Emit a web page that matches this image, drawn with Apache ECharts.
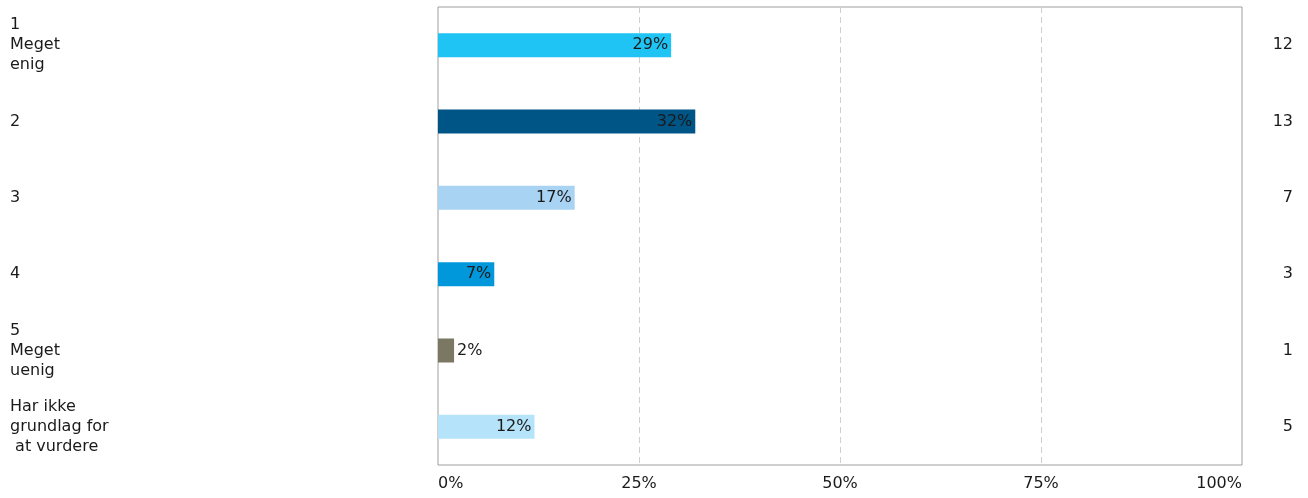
<!DOCTYPE html>
<html>
<head>
<meta charset="utf-8">
<script src="https://cdn.jsdelivr.net/npm/echarts@6/dist/echarts.min.js"></script>
<style>
  html, body { margin: 0; padding: 0; background: #fff; }
  #chart { width: 1308px; height: 498px; }
</style>
</head>
<body>
<div id="chart"></div>
<script>
// svarkategorier
const categories = ['1\nMeget\nenig', '2', '3', '4', '5\nMeget\nuenig', 'Har ikke\ngrundlag for\n at vurdere'];
// andel i procent
const percents = [29, 32, 17, 7, 2, 12];
// antal svar
const counts = [12, 13, 7, 3, 1, 5];
const barColors = ['#20c4f4', '#005587', '#a9d3f3', '#0098db', '#7a7763', '#b5e4fa'];
const ticks = [0, 25, 50, 75, 100];

const font = '"DejaVu Sans", Verdana, sans-serif';
const chart = echarts.init(document.getElementById('chart'));

const option = {
    animation: false,
    textStyle: { fontFamily: font },
    grid: {
        left: 438,
        right: 66,
        top: 7,
        bottom: 33,
        show: true,
        borderColor: '#9e9e9e',
        borderWidth: 1
    },
    xAxis: {
        type: 'value',
        min: ticks[0],
        max: ticks[ticks.length - 1],
        interval: 25,
        axisLine: { show: false },
        axisTick: { show: false },
        axisLabel: {
            formatter: '{value}%',
            fontSize: 16,
            color: '#1a1a1a',
            margin: 11,
            alignMinLabel: 'left',
            alignMaxLabel: 'right'
        },
        splitLine: {
            show: true,
            showMinLine: false,
            showMaxLine: false,
            lineStyle: { color: '#cfcfcf', type: [6, 4], width: 1 }
        }
    },
    yAxis: [
        {
            type: 'category',
            data: categories,
            inverse: true,
            axisLine: { show: false },
            axisTick: { show: false },
            axisLabel: {
                align: 'left',
                margin: 428,
                fontSize: 16,
                lineHeight: 20,
                color: '#1a1a1a'
            }
        },
        {
            type: 'category',
            data: counts,
            inverse: true,
            position: 'right',
            axisLine: { show: false },
            axisTick: { show: false },
            axisLabel: {
                align: 'right',
                margin: 51,
                fontSize: 16,
                color: '#1a1a1a'
            }
        }
    ],
    series: [
        {
            type: 'bar',
            barWidth: 24,
            data: percents.map((v, i) => ({
                value: v,
                itemStyle: { color: barColors[i] },
                label: { position: v < 5 ? 'right' : 'insideRight' }
            })),
            label: {
                show: true,
                fontSize: 16,
                color: '#1a1a1a',
                distance: 3,
                formatter: '{c}%'
            }
        }
    ]
};

chart.setOption(option);
</script>
</body>
</html>
